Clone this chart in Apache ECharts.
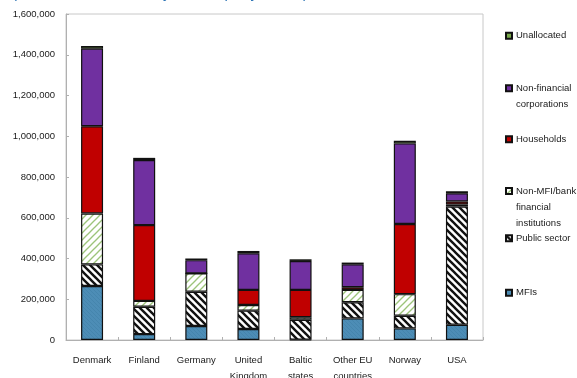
<!DOCTYPE html>
<html>
<head>
<meta charset="utf-8">
<script src="https://cdn.jsdelivr.net/npm/echarts@6/dist/echarts.min.js"></script>
<style>
html,body{margin:0;padding:0;background:#fff;}
#chart{width:577px;height:378px;}
</style>
</head>
<body>
<div id="chart"></div>
<script>
// ---- Data ----
var categories = ['Denmark', 'Finland', 'Germany', 'United\nKingdom', 'Baltic\nstates', 'Other EU\ncountries', 'Norway', 'USA'];
var seriesNames = ['MFIs', 'Public sector', 'Non-MFI/bank financial institutions', 'Households', 'Non-financial corporations', 'Unallocated'];
var mfis        = [265000,  29000,  69000,  54000,   2000, 106000,  57000,  75000];
var publicSector= [106000, 134000, 168000,  90000,  97000,  79000,  62000, 580000];
var nonMfi      = [250000,  29000,  90000,  28000,  13000,  61000, 106000,  10000];
var households  = [428000, 372000,      0,  74000, 134000,  13000, 344000,  15000];
var nonFinCorp  = [381000, 319000,  65000, 180000, 142000, 113000, 396000,  40000];
var unallocated = [ 13000,  11000,   8000,  11000,   8000,   8000,  13000,  10000];
var yTicks = [0, 200000, 400000, 600000, 800000, 1000000, 1200000, 1400000, 1600000];
var titleText = '(Amounts in millions, by counterparty sector)';

// ---- Patterns ----
function hatch(bg, fg, size, lw, dir) {
  var c = document.createElement('canvas');
  c.width = size; c.height = size;
  var g = c.getContext('2d');
  g.fillStyle = bg; g.fillRect(0, 0, size, size);
  g.strokeStyle = fg; g.lineWidth = lw; g.lineCap = 'square';
  for (var k = -1; k <= 1; k++) {
    g.beginPath();
    if (dir === 'back') { g.moveTo(k * size, 0); g.lineTo(k * size + size, size); }
    else { g.moveTo(k * size, size); g.lineTo(k * size + size, 0); }
    g.stroke();
  }
  return { image: c, repeat: 'repeat' };
}
var fills = [
  hatch('#4d8db6', '#4585ad', 4, 1, 'back'),
  hatch('#ffffff', '#111111', 7, 2.4, 'back'),
  hatch('#ffffff', '#9cc47a', 7, 1.3, 'fwd'),
  '#c00000',
  '#7030a0',
  '#78a94a'
];
var dataArr = [mfis, publicSector, nonMfi, households, nonFinCorp, unallocated];

var font = 'Liberation Sans, Arial, sans-serif';
var txtColor = '#1a1a1a';
var series = seriesNames.map(function (n, i) {
  return {
    name: n, type: 'bar', stack: 'total', barWidth: 22,
    data: dataArr[i],
    itemStyle: { color: fills[i], borderColor: '#111', borderWidth: 1.2 },
    emphasis: { disabled: true }
  };
});

var legendLabels = {
  'Unallocated': 'Unallocated',
  'Non-financial corporations': '\nNon-financial\ncorporations',
  'Households': 'Households',
  'Non-MFI/bank financial institutions': '\n\nNon-MFI/bank\nfinancial\ninstitutions',
  'Public sector': 'Public sector',
  'MFIs': 'MFIs'
};
var LH = 16;
var legendPos = [
  ['Unallocated', 35.7, 1],
  ['Non-financial corporations', 88.3, 3],
  ['Households', 139.3, 1],
  ['Non-MFI/bank financial institutions', 191, 5],
  ['Public sector', 238.3, 1],
  ['MFIs', 292.7, 1]
];
var legends = legendPos.map(function (p) {
  return {
    data: [p[0]], left: 505, top: p[1] - p[2] * LH / 2, orient: 'vertical',
    padding: 0, itemWidth: 6, itemHeight: 6, itemGap: 4, icon: 'rect',
    selectedMode: false,
    formatter: function (n) { return legendLabels[n]; },
    textStyle: { fontFamily: font, fontSize: 9.5, color: txtColor, lineHeight: LH, padding: [0, 0, 0, -1] }
  };
});

var chart = echarts.init(document.getElementById('chart'), null, { renderer: 'canvas' });
chart.setOption({
  animation: false,
  backgroundColor: '#ffffff',
  title: {
    text: titleText, left: 12, top: -14, padding: 0,
    textStyle: { fontFamily: font, fontSize: 15, fontWeight: 'normal', color: '#2e75b6' }
  },
  legend: legends,
  grid: { left: 66, right: 94, top: 14, bottom: 38, show: true, borderColor: '#c8c8c8', borderWidth: 1,
          containLabel: false, outerBoundsMode: 'none' },
  xAxis: {
    type: 'category', data: categories,
    axisLine: { show: true, lineStyle: { color: '#b0b0b0', width: 1 } },
    axisTick: { show: true, inside: true, length: 3, lineStyle: { color: '#b0b0b0' } },
    axisLabel: { fontFamily: font, fontSize: 9.5, color: txtColor, margin: 12, lineHeight: 16, interval: 0 }
  },
  yAxis: {
    type: 'value', min: 0, max: 1600000, interval: 200000,
    splitLine: { show: false },
    axisLine: { show: true, lineStyle: { color: '#b0b0b0', width: 1 } },
    axisTick: { show: true, inside: true, length: 3, lineStyle: { color: '#b0b0b0' } },
    axisLabel: {
      fontFamily: font, fontSize: 9.5, color: txtColor, margin: 11,
      formatter: function (v) { return yTicks.indexOf(v) >= 0 ? v.toLocaleString('en-US') : ''; }
    }
  },
  series: series
});
</script>
</body>
</html>
